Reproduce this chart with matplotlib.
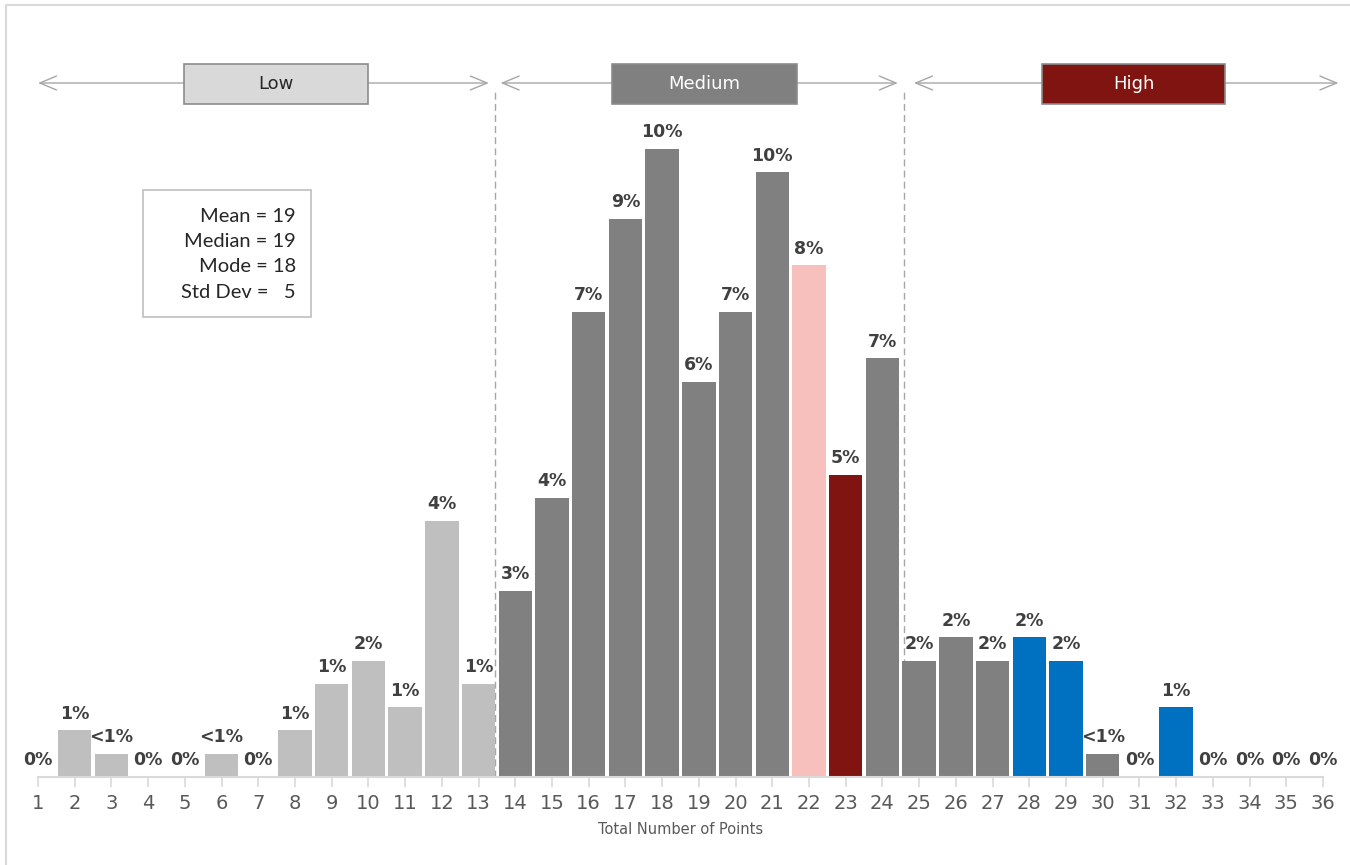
import matplotlib
matplotlib.use("Agg")
import matplotlib.pyplot as plt
from matplotlib.patches import Rectangle
from matplotlib.transforms import blended_transform_factory

# Number of respondents for each total score
points = list(range(1, 37))
counts = [0, 2, 1, 0, 0, 1, 0, 2, 4, 5, 3, 11, 4, 8, 12, 20, 24, 27, 17, 20,
          26, 22, 13, 18, 5, 6, 5, 6, 5, 1, 0, 3, 0, 0, 0, 0]

LIGHT = "#BFBFBF"
GRAY = "#808080"
PINK = "#F8C0BC"
MAROON = "#7F1410"
BLUE = "#0070C0"
bar_colors = ([LIGHT] * 13 + [GRAY] * 8 + [PINK, MAROON] + [GRAY] * 4 +
              [BLUE, BLUE, GRAY, GRAY, BLUE] + [GRAY] * 4)

# Band definitions: label, box span, arrow span, fill, text colour
bands = [
    ("Low", (4.97, 10.0), (1.0, 13.28), "#D9D9D9", "#262626"),
    ("Medium", (16.63, 21.66), (13.6, 24.42), "#808080", "white"),
    ("High", (28.34, 33.34), (24.86, 36.42), "#7F1410", "white"),
]
band_breaks = [13.46, 24.6]

stats_lines = ["Mean = 19", "Median = 19", "Mode = 18", "Std Dev =   5"]

total = sum(counts)
pcts = [c / total * 100 for c in counts]


def pct_label(p):
    if p == 0:
        return "0%"
    if p < 0.5:
        return "<1%"
    return f"{round(p)}%"


W, H = 1350, 865
fig = plt.figure(figsize=(W / 100, H / 100), dpi=100)
ax_left, ax_right, ax_bottom, ax_top = 38, 1323, 777, 40
ax = fig.add_axes([ax_left / W, 1 - ax_bottom / H,
                   (ax_right - ax_left) / W, (ax_bottom - ax_top) / H])

ax.bar(points, pcts, width=0.91, color=bar_colors, zorder=2)
for x, p in zip(points, pcts):
    ax.annotate(pct_label(p), (x, p), xytext=(0, 5.5), textcoords="offset points",
                ha="center", va="bottom", fontsize=12.5, fontweight="bold",
                color="#404040", family="DejaVu Sans", zorder=3)

ax.set_xlim(1, 36)
ax.set_ylim(0, (ax_bottom - ax_top) / 63.04)
ax.set_xticks(points)
ax.set_xticklabels([str(p) for p in points])
ax.set_yticks([])
for side in ("left", "right", "top"):
    ax.spines[side].set_visible(False)
ax.spines["bottom"].set_color("#D9D9D9")
ax.spines["bottom"].set_linewidth(1.5)
ax.tick_params(axis="x", length=7, width=1.2, color="#D9D9D9",
               labelcolor="#595959", labelsize=14, pad=5)
ax.set_xlabel("Total Number of Points", fontsize=10.5, color="#595959",
              labelpad=7, family="DejaVu Sans")
ax.set_facecolor("none")

trans = blended_transform_factory(ax.transData, ax.transAxes)
span_px = ax_bottom - ax_top
arrow_y = (ax_bottom - 83) / span_px
box_bottom = (ax_bottom - 104) / span_px
box_h = 40 / span_px

for x in band_breaks:
    ax.plot([x, x], [0, (ax_bottom - 88) / span_px], transform=trans,
            color="#A6A6A6", lw=1, ls=(0, (5, 3)), clip_on=False, zorder=1)

for name, (b0, b1), (a0, a1), fill, tcol in bands:
    ax.annotate("", xy=(a1, arrow_y), xytext=(a0, arrow_y),
                xycoords=trans, textcoords=trans,
                arrowprops=dict(arrowstyle="<->,head_length=1.2,head_width=0.5",
                                color="#A6A6A6", lw=1, shrinkA=0, shrinkB=0),
                annotation_clip=False, zorder=4)
    ax.add_patch(Rectangle((b0, box_bottom), b1 - b0, box_h, transform=trans,
                           facecolor=fill, edgecolor="#8C8C8C", lw=1.2,
                           clip_on=False, zorder=5))
    ax.text((b0 + b1) / 2, box_bottom + box_h / 2, name, transform=trans,
            ha="center", va="center", fontsize=13, color=tcol,
            family="DejaVu Sans", zorder=6)

# Summary statistics box
fig.add_artist(Rectangle((143 / W, 1 - 317 / H), 168 / W, 127 / H,
                         transform=fig.transFigure, facecolor="white",
                         edgecolor="#BFBFBF", lw=1.2))
for i, line in enumerate(stats_lines):
    fig.text(296 / W, 1 - (216 + 25.5 * i) / H, line, ha="right", va="center",
             fontsize=14.5, color="#262626", family="Lato")

# Outer chart border
fig.add_artist(Rectangle((6 / W, -0.1), 1.2, 1.1 - 5 / H,
                         transform=fig.transFigure, fill=False,
                         edgecolor="#D9D9D9", lw=1.5))

fig.savefig("out.png", dpi=100)
